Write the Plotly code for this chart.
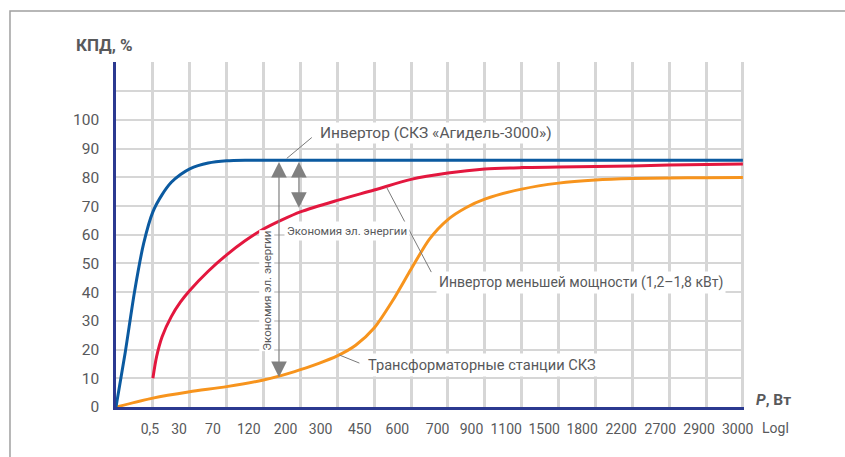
import plotly.graph_objects as go

# ---- data (x in grid-step units: 0 = origin, each grid column = 1) ----
x_tick_labels = ["0,5", "30", "70", "120", "200", "300", "450", "600", "700",
                 "900", "1100", "1500", "1800", "2200", "2700", "2900", "3000"]
x_tick_pos = [0.92, 1.71, 2.63, 3.60, 4.60, 5.55, 6.61, 7.63, 8.72,
              9.64, 10.58, 11.61, 12.64, 13.70, 14.76, 15.81, 16.86]
x_grid = list(range(1, 18))
y_ticks = list(range(0, 130, 10))
y_tick_labels = [str(v) if v <= 100 else "" for v in y_ticks]

blue_x = [0, 0.25, 0.5, 0.75, 1.0, 1.25, 1.5, 1.75, 2.0, 2.5, 3.0, 3.5, 4, 5, 7, 9, 11, 13, 15, 17]
blue_y = [0, 19, 40, 57, 68, 74, 78.3, 81, 83, 85, 85.8, 86, 86, 86, 86, 86, 86, 86, 86, 86]

red_x = [1.0, 1.1, 1.25, 1.5, 1.75, 2.0, 2.5, 3.0, 3.5, 4.0, 4.5, 5.0, 6.0, 7.0, 8.0,
         9.0, 10.0, 11.0, 12.0, 13.0, 14.0, 15.0, 16.0, 17.0]
red_y = [10, 17.5, 24.5, 31.5, 36.6, 40.6, 47.3, 53.0, 57.9, 62, 65.2, 68, 72, 75.6, 79.3,
         81.5, 82.9, 83.4, 83.6, 83.8, 84.0, 84.3, 84.5, 84.7]

orange_x = [0, 1, 2, 3, 4, 4.5, 5, 5.5, 6, 6.5, 7, 7.5, 8, 8.5, 9, 9.5, 10, 11, 12, 13, 14,
            15, 16, 17]
orange_y = [0, 3.1, 5.3, 7.1, 9.4, 11, 13, 15.2, 17.8, 21.5, 27.5, 37, 48, 58.5, 65.3, 69.5,
            72.4, 75.9, 78, 79.1, 79.6, 79.8, 79.9, 80]

# ---- style ----
FONT = "Roboto, Liberation Sans, Arial, sans-serif"
TXT = "#58595b"
GRID = "#d6d6d6"
AXIS = "#2b3990"
BLUE = "#0b5aa0"
RED = "#e3173e"
ORANGE = "#f7941d"
ARROW = "#808080"

fig = go.Figure()
fig.add_trace(go.Scatter(x=orange_x, y=orange_y, mode="lines",
                         line=dict(color=ORANGE, width=3, shape="spline", smoothing=0.7)))
fig.add_trace(go.Scatter(x=red_x, y=red_y, mode="lines",
                         line=dict(color=RED, width=3, shape="spline", smoothing=0.8)))
fig.add_trace(go.Scatter(x=blue_x, y=blue_y, mode="lines",
                         line=dict(color=BLUE, width=3, shape="spline", smoothing=0.7)))

fig.update_layout(
    width=845, height=457,
    margin=dict(l=116, r=101, t=62, b=50),
    paper_bgcolor="white", plot_bgcolor="white",
    showlegend=False,
    font=dict(family=FONT, color=TXT, size=15),
    xaxis=dict(range=[0, 17.03], tickmode="array", tickvals=x_tick_pos, ticktext=x_tick_labels,
               showgrid=False, zeroline=False, showline=True, linecolor=AXIS, linewidth=2.5,
               ticks="", tickangle=0, automargin=False, ticklabelstandoff=7,
               tickfont=dict(size=14),
               minor=dict(tickmode="array", tickvals=x_grid, showgrid=True,
                          gridcolor=GRID, gridwidth=2.5, ticks="")),
    yaxis=dict(range=[0, 120.2], tickmode="array", tickvals=y_ticks, ticktext=y_tick_labels,
               showgrid=True, gridcolor=GRID, gridwidth=2, zeroline=False, automargin=False,
               showline=True, linecolor=AXIS, linewidth=2.5, ticks="",
               ticklabelstandoff=11, tickfont=dict(size=15.5)),
)

# outer frame
fig.add_shape(type="rect", xref="paper", yref="paper", x0=-0.1688, x1=1.3, y0=-0.3, y1=1.1478,
              line=dict(color="#a0a0a0", width=1.5), fillcolor="rgba(0,0,0,0)", layer="below")

# leader lines
for x0, y0, x1, y1 in [(4.63, 86.6, 5.31, 93.9), (7.34, 76.5, 8.55, 47.0), (6.06, 18.1, 6.6, 15.3)]:
    fig.add_shape(type="line", xref="x", yref="y", x0=x0, y0=y0, x1=x1, y1=y1,
                  line=dict(color="#7a7a7a", width=1))

# double arrows
for xa, ytop, ybot in [(4.42, 85.9, 10.4), (4.96, 85.9, 69.4)]:
    fig.add_annotation(x=xa, y=ybot, ax=xa, ay=ytop, xref="x", yref="y", axref="x", ayref="y",
                       text="", showarrow=True, arrowside="end+start", arrowhead=2,
                       startarrowhead=2, arrowsize=2.6, startarrowsize=2.6, arrowwidth=1.2,
                       arrowcolor=ARROW, standoff=0, startstandoff=0)

# labels
fig.add_annotation(x=5.47, y=95.3, xref="x", yref="y", xanchor="left", yanchor="middle",
                   text="Инвертор (СКЗ «Агидель-3000»)", showarrow=False,
                   font=dict(size=15.5, color=TXT), bgcolor="white", borderpad=1)
fig.add_annotation(x=8.69, y=43.5, xref="x", yref="y", xanchor="left", yanchor="middle",
                   text="Инвертор меньшей мощности (1,2–1,8 кВт)", showarrow=False,
                   font=dict(size=14, color=TXT), bgcolor="white", borderpad=2)
fig.add_annotation(x=6.74, y=14.6, xref="x", yref="y", xanchor="left", yanchor="middle",
                   text="Трансформаторные станции СКЗ", showarrow=False,
                   font=dict(size=14.6, color=TXT), bgcolor="white", borderpad=2)
fig.add_annotation(x=6.27, y=61.2, xref="x", yref="y", xanchor="center", yanchor="middle",
                   text="Экономия эл. энергии", showarrow=False,
                   font=dict(size=11.5, color=TXT), bgcolor="white", borderpad=2)
fig.add_annotation(x=4.10, y=40.6, xref="x", yref="y", xanchor="center", yanchor="middle",
                   text="Экономия эл. энергии", showarrow=False, textangle=-90,
                   font=dict(size=11.5, color=TXT), bgcolor="white", borderpad=0)

# axis titles
fig.add_annotation(x=-0.019, y=1.049, xref="paper", yref="paper", xanchor="center", yanchor="middle",
                   text="<b>КПД, %</b>", showarrow=False, font=dict(size=17, color=TXT))
fig.add_annotation(x=1.016, y=0.02, xref="paper", yref="paper", xanchor="left", yanchor="middle",
                   text="<b><i>P</i>, Вт</b>", showarrow=False, font=dict(size=15.5, color=TXT))
fig.add_annotation(x=1.025, y=-0.061, xref="paper", yref="paper", xanchor="left", yanchor="middle",
                   text="Logl", showarrow=False, font=dict(size=14, color=TXT))

fig.write_html("out.html", config={"displayModeBar": False},
               post_script="document.body.style.margin='0px';")
